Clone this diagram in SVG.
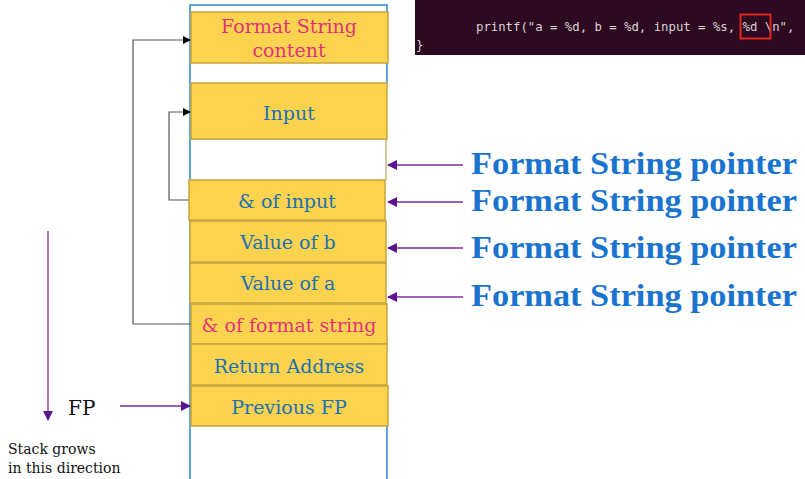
<svg xmlns="http://www.w3.org/2000/svg" width="805" height="479" viewBox="0 0 805 479">
<style>
.box{fill:#FBD34F;stroke:#C8A43C;stroke-width:1.5}
.t{font-family:"DejaVu Serif","Liberation Serif",serif;font-size:19px;fill:#1C70B4;text-anchor:middle}
.pk{fill:#E2337B}
.ptr{font-family:"Liberation Serif","DejaVu Serif",serif;font-weight:bold;font-size:32px;fill:#1A74CF}
.conn{fill:none;stroke:#555;stroke-width:1.2}
.pu{fill:none;stroke:#7A2E9E;stroke-width:1.3}
</style>
<defs>
<marker id="ab" markerWidth="8" markerHeight="8" refX="7" refY="4" orient="auto" markerUnits="userSpaceOnUse"><path d="M0,0 L8,4 L0,8 z" fill="#000"/></marker>
<marker id="ap" markerWidth="10" markerHeight="10" refX="9" refY="5" orient="auto" markerUnits="userSpaceOnUse"><path d="M0,0 L10,5 L0,10 z" fill="#5B1390"/></marker>
</defs>
<rect width="805" height="479" fill="#fff"/>
<g id="terminal">
<rect x="415" y="0" width="390" height="55" fill="#2D0922"/>
<text x="476" y="31" font-family="DejaVu Sans Mono,Liberation Mono,monospace" font-size="12.3" fill="#D8D4D0" xml:space="preserve">printf("a = %d, b = %d, input = %s, %d \n",</text>
<text x="416" y="49" font-family="DejaVu Sans Mono,Liberation Mono,monospace" font-size="12.3" fill="#D8D4D0">}</text>
<rect x="740.5" y="14.5" width="30" height="24" fill="none" stroke="#E0271B" stroke-width="2"/>
</g>
<g id="stack-outline">
<path d="M190,479 V5 H387 V83" fill="none" stroke="#2A86D8" stroke-width="1.5"/>
<path d="M387,426 V479" fill="none" stroke="#2A86D8" stroke-width="1.5"/>
<path d="M190,139 H386 V180" fill="none" stroke="#B9A25A" stroke-width="1.2"/>
</g>
<g id="n-fsc"><rect class="box" x="191" y="12" width="197" height="51"/><text class="t pk" x="289" y="33">Format String</text><text class="t pk" x="289" y="57">content</text></g>
<g id="n-input"><rect class="box" x="191" y="83" width="196" height="56"/><text class="t" x="289" y="120">Input</text></g>
<g id="n-addr-input"><rect class="box" x="189" y="180" width="196" height="40"/><text class="t" x="287" y="208">&amp; of input</text></g>
<g id="n-b"><rect class="box" x="190" y="221" width="196" height="41"/><text class="t" x="288" y="249">Value of b</text></g>
<g id="n-a"><rect class="box" x="190" y="263" width="196" height="40"/><text class="t" x="288" y="290">Value of a</text></g>
<g id="n-addr-fs"><rect class="box" x="191" y="304" width="196" height="40"/><text class="t pk" x="289" y="332">&amp; of format string</text></g>
<g id="n-ret"><rect class="box" x="191" y="344" width="196" height="41"/><text class="t" x="289" y="373">Return Address</text></g>
<g id="n-prevfp"><rect class="box" x="191" y="386" width="197" height="40"/><text class="t" x="289" y="414">Previous FP</text></g>
<g id="labels">
<text class="ptr" x="471" y="174" textLength="326" lengthAdjust="spacingAndGlyphs">Format String pointer</text>
<text class="ptr" x="471" y="211" textLength="326" lengthAdjust="spacingAndGlyphs">Format String pointer</text>
<text class="ptr" x="471" y="258" textLength="326" lengthAdjust="spacingAndGlyphs">Format String pointer</text>
<text class="ptr" x="471" y="306" textLength="326" lengthAdjust="spacingAndGlyphs">Format String pointer</text>
<text x="68" y="415" font-family="DejaVu Serif,Liberation Serif,serif" font-size="20" fill="#111">FP</text>
<text x="8" y="454" font-family="DejaVu Serif,Liberation Serif,serif" font-size="14" fill="#111">Stack grows</text>
<text x="8" y="473" font-family="DejaVu Serif,Liberation Serif,serif" font-size="14" fill="#111">in this direction</text>
</g>
<g id="connectors">
<path class="conn" d="M191,324 H133 V40 H190" marker-end="url(#ab)"/>
<path class="conn" d="M189,200 H169 V112 H190" marker-end="url(#ab)"/>
<path class="pu" d="M120,406 H190" marker-end="url(#ap)"/>
<path class="pu" d="M48,231 V420" marker-end="url(#ap)"/>
<path class="pu" d="M463,165 H388" marker-end="url(#ap)"/>
<path class="pu" d="M463,202 H388" marker-end="url(#ap)"/>
<path class="pu" d="M463,248 H388" marker-end="url(#ap)"/>
<path class="pu" d="M463,297 H388" marker-end="url(#ap)"/>
</g>
</svg>
